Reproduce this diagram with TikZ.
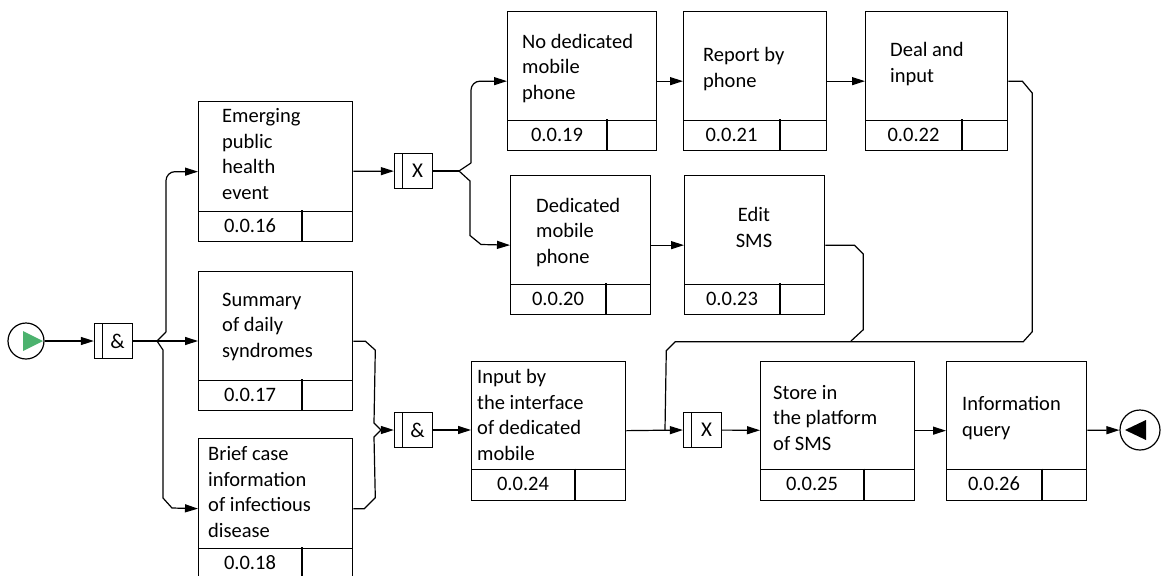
\documentclass[tikz,border=0pt]{standalone}
\usepackage{fontspec}
\setmainfont{Carlito}
\usetikzlibrary{arrows.meta}
\definecolor{startgreen}{RGB}{76,178,110}
\newcommand\procbox[7]{%
  \node[box, minimum width=#4pt, minimum height=#5pt] (#1) at (#2,#3) {};
  \draw[boxline] ([yshift=31pt]#1.south west) -- ([yshift=31pt]#1.south east);
  \draw[boxline] ({#6},{#3+#5-31}) -- ({#6},{#3+#5});
  \node[num] (#1n) at ({(#2+#6)/2},{#3+#5-15.5}) {#7};
}
\begin{document}
\begin{tikzpicture}[x=1pt,y=-1pt,
  boxline/.style={line width=1.3pt},
  box/.style={draw, line width=1.3pt, rectangle, inner sep=0pt, anchor=north west},
  txt/.style={anchor=base west, align=left, inner sep=0pt, font=\fontsize{20.5}{25.5}\selectfont},
  num/.style={inner sep=0pt, font=\fontsize{20.5}{25.5}\selectfont},
  junc/.style={draw, line width=1.3pt, minimum width=38pt, minimum height=35pt, inner sep=0pt,
    font=\fontsize{21}{25}\selectfont,
    path picture={\draw[line width=1.3pt] ([xshift=8pt]path picture bounding box.north west) -- ([xshift=8pt]path picture bounding box.south west);}},
  conn/.style={line width=1.2pt},
  arr/.style={conn, -{Triangle[length=13pt,width=8pt]}},
]
\useasboundingbox (0,0) rectangle (1163,576);

% process boxes
\procbox{b16}{198}{101}{154}{140}{302}{0.0.16}
\procbox{b17}{198}{271}{154}{139}{302}{0.0.17}
\procbox{b18}{198}{438}{154}{140}{302}{0.0.18}
\procbox{b19}{507}{11}{149}{139}{607}{0.0.19}
\procbox{b21}{683}{11}{143}{139}{780}{0.0.21}
\procbox{b22}{865}{11}{142}{139}{962}{0.0.22}
\procbox{b20}{510}{175}{140}{139}{606}{0.0.20}
\procbox{b23}{684}{175}{140}{139}{780}{0.0.23}
\procbox{b24}{471}{360.5}{154}{139}{575}{0.0.24}
\procbox{b25}{760}{360.5}{154}{139}{864}{0.0.25}
\procbox{b26}{946}{360.5}{140}{139}{1042}{0.0.26}

% box texts (anchored at the baseline of the last line)
\node[txt] (t16) at (222,199) {Emerging\\public\\health\\event};
\node[txt] (t17) at (222,357) {Summary\\of daily\\syndromes};
\node[txt] (t18) at (208,537) {Brief case\\information\\of infectious\\disease};
\node[txt] (t19) at (522,99) {No dedicated\\mobile\\phone};
\node[txt] (t21) at (703,87) {Report by\\phone};
\node[txt] (t22) at (890,82) {Deal and\\input};
\node[txt] (t20) at (536,263) {Dedicated\\mobile\\phone};
\node[txt, anchor=base, align=center] (t23) at (754,247) {Edit\\SMS};
\node[txt] (t24) at (477,460) {Input by\\the interface\\of dedicated\\mobile};
\node[txt] (t25) at (773,450) {Store in\\the platform\\of SMS};
\node[txt] (t26) at (962,436) {Information\\query};

% junctions
\node[junc] (j1) at (113.5,341) {\hspace*{8pt}\&};
\node[junc] (x1) at (413.5,171) {\hspace*{8pt}X};
\node[junc] (j2) at (413.5,430) {\hspace*{8pt}\&};
\node[junc] (x3) at (702.5,430) {\hspace*{8pt}X};

% start and end events
\node[circle, draw, line width=1.2pt, minimum size=36pt, inner sep=0pt] (start) at (26,341) {};
\fill[startgreen] ([shift={(-3,-10)}]start.center) -- ([shift={(17,0)}]start.center) -- ([shift={(-3,10)}]start.center) -- cycle;
\node[circle, draw, line width=1.2pt, minimum size=40pt, inner sep=0pt] (end) at (1140,430) {};
\fill[black] ([shift={(-15,0)}]end.center) -- ([shift={(6,-10)}]end.center) -- ([shift={(6,10)}]end.center) -- cycle;

% merge/fork coordinates
\coordinate (f1) at (157,341);
\coordinate (f1u) at (166,332);
\coordinate (f1d) at (163,350);
\coordinate (f2) at (459,171);
\coordinate (f2u) at (471,163);
\coordinate (m1) at (381,430);
\coordinate (m2) at (851,341);
\coordinate (m3) at (665,430);

% connectors
\draw[arr] (start) -- (j1);
\draw[conn] (j1) -- (f1);
\draw[arr] (f1) -- (f1 -| b17.west);
\draw[conn] (f1) -- (f1u);
\draw[arr, rounded corners=9pt] (f1u) |- (b16.west);
\draw[arr] (f1) -- (f1d) -- ++(0,148) -- ++(9,10) -- (b18.west);

\draw[arr] (b16) -- (x1);
\draw[conn] (x1) -- (f2);
\draw[conn] (f2) -- (f2u);
\draw[arr, rounded corners=9pt] (f2u) |- (b19.west);
\draw[arr] (f2) -- ++(11,10) -- ++(0,54.5) -- ++(11,9) -- (b20.west);

\draw[arr] (b19) -- (b21);
\draw[arr] (b21) -- (b22);
\draw[arr] (b20) -- (b23);

\draw[conn] (b22.east) -- ++(14,0) -- ++(10,12) -- ++(0,238.5) -- ++(-9,10) -- ++(-348,0) -- ++(-9,9) -- (m3);
\draw[conn] (b23.east) -- ++(29,0) -- ++(9,9) -- ++(0,75.5) -- (m2);

\draw[arr] (b17.east) -- ++(12,0) -- ++(10,9) -- (374,423) -- (m1) -- (j2.west);
\draw[conn] (b18.east) -- ++(11,0) -- ++(11,-11) -- (374,437) -- (m1);

\draw[arr] (j2.east) -- (j2.east -| b24.west);
\draw[arr] (b24.east) -- (x3.west);
\draw[arr] (x3) -- (b25);
\draw[arr] (b25) -- (b26);
\draw[arr] (b26) -- (end);
\end{tikzpicture}
\end{document}
